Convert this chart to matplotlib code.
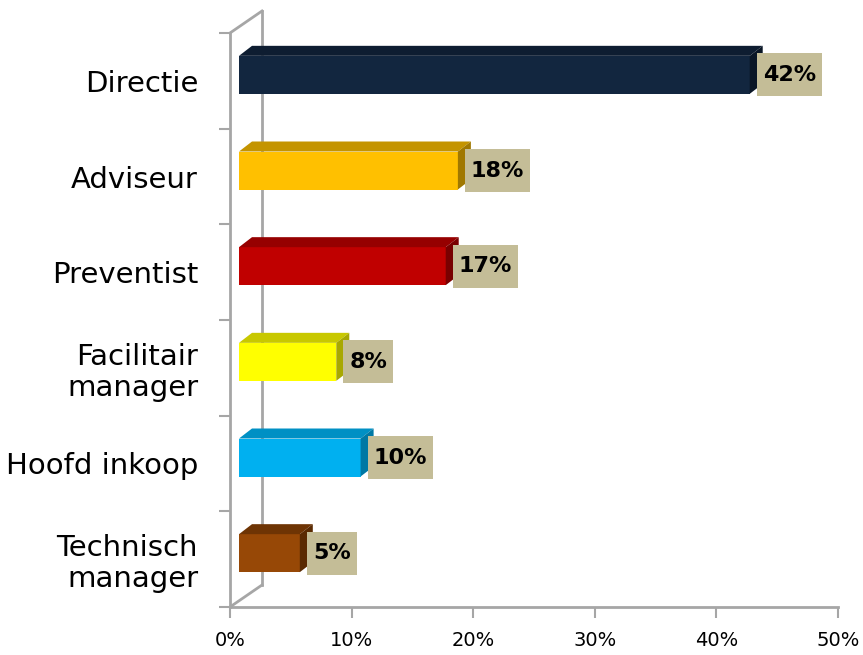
import matplotlib.pyplot as plt
from matplotlib.patches import Polygon, Rectangle

# data
categories = ["Directie", "Adviseur", "Preventist", "Facilitair\nmanager",
              "Hoofd inkoop", "Technisch\nmanager"]
values = [42, 18, 17, 8, 10, 5]
labels = ["42%", "18%", "17%", "8%", "10%", "5%"]
front_colors = ["#12263F", "#FFC000", "#C00000", "#FFFF00", "#00B0F0", "#974806"]
top_colors = ["#0E1D31", "#C49400", "#960000", "#C8C800", "#0090C4", "#6E3404"]
side_colors = ["#0A1626", "#A07800", "#780000", "#A8A800", "#0078A4", "#5A2A02"]
xticks = [0, 10, 20, 30, 40, 50]

W, H = 863, 655
fig = plt.figure(figsize=(W / 100, H / 100), dpi=100)
ax = fig.add_axes([230 / W, (H - 607) / H, 608 / W, 574 / H])
ax.set_xlim(0, 50)
ax.set_ylim(0, 6)

px_x = 50 / 608.0   # data units per pixel in x
px_y = 6 / 574.0    # data units per pixel in y

grey = "#A6A6A6"
# back wall line and diagonals
bx, by = 32 * px_x, 22 * px_y
ax.plot([bx, bx], [by, 6 + by], color=grey, lw=2, clip_on=False)
ax.plot([0, bx], [6, 6 + by], color=grey, lw=2, clip_on=False)
ax.plot([0, bx], [0, by], color=grey, lw=2, clip_on=False)

# bars in pseudo 3D
fx, fy = 9 * px_x, 6 * px_y        # depth of bar front face
tx, ty = 13 * px_x, 10 * px_y      # bar depth
bh = 38 * px_y
n = len(categories)
for i, (v, lab) in enumerate(zip(values, labels)):
    yc = n - 0.5 - i
    x0, x1 = fx, v + fx
    y0, y1 = yc - bh / 2 + fy, yc + bh / 2 + fy
    ax.add_patch(Polygon([(x0, y0), (x1, y0), (x1, y1), (x0, y1)],
                         closed=True, fc=front_colors[i], ec="none", zorder=3))
    ax.add_patch(Polygon([(x0, y1), (x1, y1), (x1 + tx, y1 + ty), (x0 + tx, y1 + ty)],
                         closed=True, fc=top_colors[i], ec="none", zorder=3))
    ax.add_patch(Polygon([(x1, y0), (x1 + tx, y0 + ty), (x1 + tx, y1 + ty), (x1, y1)],
                         closed=True, fc=side_colors[i], ec="none", zorder=3))
    # label box
    bw = (15 * len(lab) + 20) * px_x
    bxh = 43 * px_y
    lx = x1 + 7 * px_x
    ym = yc + fy
    ax.add_patch(Rectangle((lx, ym - bxh / 2), bw, bxh, fc="#C4BD97", ec="none",
                           zorder=4, clip_on=False))
    ax.text(lx + bw / 2, ym, lab, ha="center", va="center",
            fontsize=16, fontweight="bold", zorder=5)

ax.set_yticks(range(n + 1))
ax.set_yticklabels([])
ax.set_yticks([n - 0.5 - i for i in range(n)], minor=True)
ax.set_yticklabels(categories, minor=True, fontsize=21, ha="right",
                   linespacing=1.15)
ax.tick_params(axis="y", which="minor", length=0, pad=23)
ax.tick_params(axis="y", which="major", length=8, width=1.5, color=grey)

ax.set_xticks(xticks)
ax.set_xticklabels([f"{t}%" for t in xticks], fontsize=14)
ax.tick_params(axis="x", length=8, width=1.5, color=grey, pad=9)

for s in ["top", "right"]:
    ax.spines[s].set_visible(False)
for s in ["left", "bottom"]:
    ax.spines[s].set_color(grey)
    ax.spines[s].set_linewidth(2)

fig.savefig("out.png", dpi=100)
